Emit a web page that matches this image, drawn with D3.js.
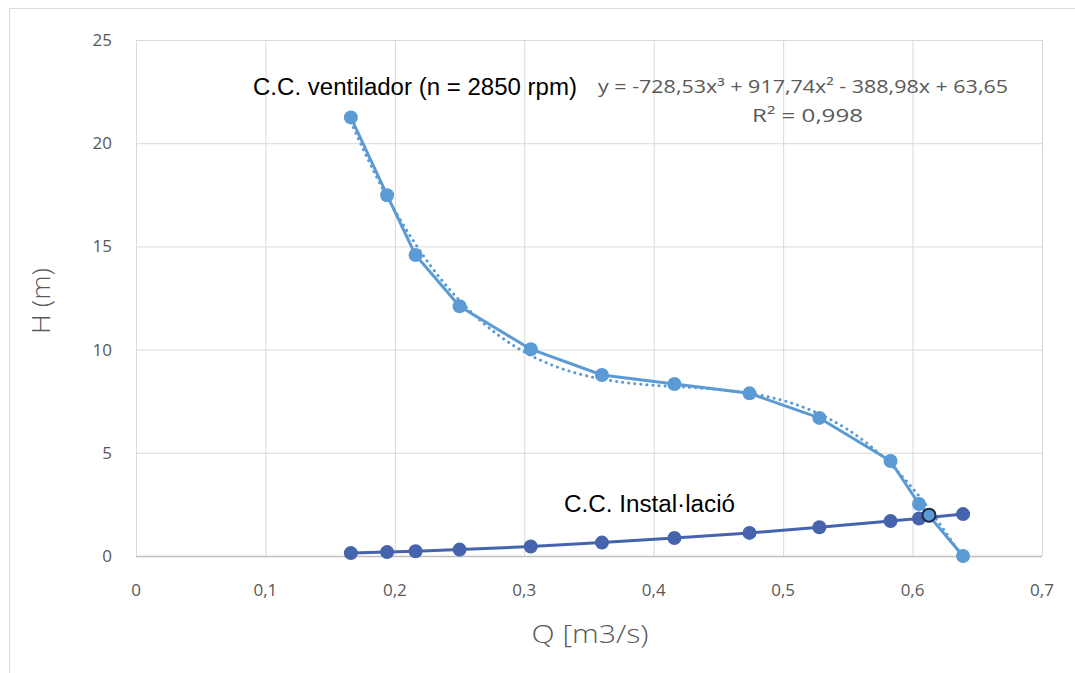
<!DOCTYPE html>
<html>
<head>
<meta charset="utf-8">
<script src="https://d3js.org/d3.v7.min.js"></script>
<style>
    body { margin: 0; background: #fff; }
</style>
</head>
<body>
<div id="chart"></div>
<script>
// fan curve measured points (Q in m3/s, H in m)
var fanQ = [0.166, 0.194, 0.216, 0.25, 0.305, 0.36, 0.416, 0.474, 0.528, 0.583, 0.605, 0.639];
var fanH = [21.25, 17.48, 14.58, 12.1, 10.02, 8.77, 8.33, 7.88, 6.69, 4.6, 2.52, 0];

// installation curve
var instQ = [0.166, 0.194, 0.216, 0.25, 0.305, 0.36, 0.416, 0.474, 0.528, 0.583, 0.605, 0.639];
var instH = [0.14, 0.19, 0.23, 0.31, 0.46, 0.65, 0.87, 1.12, 1.39, 1.69, 1.82, 2.03];

// dotted cubic trendline
var trendQ = [0.166, 0.19, 0.22, 0.25, 0.28, 0.31, 0.34, 0.37, 0.40, 0.43, 0.46, 0.49, 0.52, 0.55, 0.58, 0.61, 0.639];
var trendH = [21.03, 17.87, 14.73, 12.38, 10.70, 9.56, 8.86, 8.47, 8.27, 8.16, 8.00, 7.69, 7.10, 6.12, 4.63, 2.50, -0.1];

// operating point
var opQ = [0.6127];
var opH = [1.98];

var xTicks = [0, 0.1, 0.2, 0.3, 0.4, 0.5, 0.6, 0.7];
var yTicks = [0, 5, 10, 15, 20, 25];

var fullWidth = 1075;
var fullHeight = 673;
var fanColor = '#5B9BD5';
var instColor = '#4664AE';
var gridColor = '#D9D9D9';
var labelColor = '#595959';
var tickFont = '"Open Sans", "Liberation Sans", sans-serif';
var textFont = '"Liberation Sans", Arial, sans-serif';

window.onload = function() {
    render();
};

function render() {
    var svg = d3.select('#chart').append('svg')
        .attr('width', fullWidth)
        .attr('height', fullHeight);

    // outer chart frame
    svg.append('rect')
        .attr('x', 9.5)
        .attr('y', 8.5)
        .attr('width', 1100)
        .attr('height', 700)
        .attr('fill', 'none')
        .attr('stroke', gridColor);

    var x = d3.scaleLinear().domain([0, 0.7]).range([136, 1042]);
    var y = d3.scaleLinear().domain([0, 25]).range([556, 40]);

    // gridlines
    svg.append('g')
        .attr('transform', 'translate(136,0)')
        .call(d3.axisLeft(y).tickValues(yTicks).tickSize(-(1042 - 136)).tickFormat(''))
        .call(function(g) {
            g.select('.domain').remove();
            g.selectAll('line').attr('stroke', gridColor).attr('stroke-width', 1);
        });

    svg.append('g')
        .attr('transform', 'translate(0,556)')
        .call(d3.axisBottom(x).tickValues(xTicks).tickSize(-(556 - 40)).tickFormat(''))
        .call(function(g) {
            g.select('.domain').remove();
            g.selectAll('line').attr('stroke', gridColor).attr('stroke-width', 1);
        });

    // bottom axis line
    svg.append('line')
        .attr('x1', 136).attr('x2', 1042)
        .attr('y1', 556.5).attr('y2', 556.5)
        .attr('stroke', '#BFBFBF')
        .attr('stroke-width', 1.5);

    // tick labels
    var fmt = function(d) { return String(d).replace('.', ','); };
    svg.append('g').selectAll('text')
        .data(xTicks)
        .join('text')
        .attr('x', function(d) { return x(d); })
        .attr('y', 596)
        .attr('text-anchor', 'middle')
        .style('font-family', tickFont)
        .style('font-size', '17px')
        .style('fill', labelColor)
        .text(fmt);

    svg.append('g').selectAll('text')
        .data(yTicks)
        .join('text')
        .attr('x', 112)
        .attr('y', function(d) { return y(d) + 6; })
        .attr('text-anchor', 'end')
        .style('font-family', tickFont)
        .style('font-size', '17px')
        .style('fill', labelColor)
        .text(fmt);

    // axis titles
    svg.append('text')
        .attr('x', 590)
        .attr('y', 643)
        .attr('text-anchor', 'middle')
        .attr('textLength', 117)
        .attr('lengthAdjust', 'spacingAndGlyphs')
        .style('font-family', tickFont)
        .style('font-size', '25px')
        .style('font-weight', 300)
        .style('fill', labelColor)
        .text('Q [m3/s)');

    svg.append('text')
        .attr('transform', 'translate(50,301) rotate(-90)')
        .attr('text-anchor', 'middle')
        .attr('textLength', 66)
        .attr('lengthAdjust', 'spacingAndGlyphs')
        .style('font-family', tickFont)
        .style('font-size', '25px')
        .style('font-weight', 300)
        .style('fill', labelColor)
        .text('H (m)');

    var line = d3.line()
        .x(function(d) { return x(d[0]); })
        .y(function(d) { return y(d[1]); });

    // trendline (dotted)
    var trendPts = d3.zip(trendQ, trendH);
    svg.append('path')
        .attr('d', line.curve(d3.curveNatural)(trendPts))
        .attr('fill', 'none')
        .attr('stroke', fanColor)
        .attr('stroke-width', 3)
        .attr('stroke-linecap', 'round')
        .attr('stroke-dasharray', '0.1 6');
    line.curve(d3.curveLinear);

    // fan curve
    drawSeries(svg, d3.zip(fanQ, fanH), fanColor, line, x, y);

    // installation curve
    drawSeries(svg, d3.zip(instQ, instH), instColor, line, x, y);

    // operating point
    svg.append('g').selectAll('circle')
        .data(d3.zip(opQ, opH))
        .join('circle')
        .attr('cx', function(d) { return x(d[0]); })
        .attr('cy', function(d) { return y(d[1]); })
        .attr('r', 6.5)
        .attr('fill', fanColor)
        .attr('stroke', '#1F2A4A')
        .attr('stroke-width', 2);

    // annotations
    svg.append('text')
        .attr('x', 253)
        .attr('y', 95)
        .attr('textLength', 324)
        .attr('lengthAdjust', 'spacingAndGlyphs')
        .style('font-family', textFont)
        .style('font-size', '23.5px')
        .style('fill', '#000')
        .text('C.C. ventilador (n = 2850 rpm)');

    svg.append('text')
        .attr('x', 564)
        .attr('y', 512)
        .attr('textLength', 171)
        .attr('lengthAdjust', 'spacingAndGlyphs')
        .style('font-family', textFont)
        .style('font-size', '23.5px')
        .style('fill', '#000')
        .text('C.C. Instal·lació');

    svg.append('text')
        .attr('x', 598)
        .attr('y', 93)
        .attr('textLength', 410)
        .attr('lengthAdjust', 'spacingAndGlyphs')
        .style('font-family', tickFont)
        .style('font-size', '18px')
        .style('fill', labelColor)
        .text('y = -728,53x³ + 917,74x² - 388,98x + 63,65');

    svg.append('text')
        .attr('x', 752)
        .attr('y', 122)
        .attr('textLength', 111)
        .attr('lengthAdjust', 'spacingAndGlyphs')
        .style('font-family', tickFont)
        .style('font-size', '18px')
        .style('fill', labelColor)
        .text('R² = 0,998');
}

function drawSeries(svg, pts, color, line, x, y) {
    svg.append('path')
        .attr('d', line(pts))
        .attr('fill', 'none')
        .attr('stroke', color)
        .attr('stroke-width', 3)
        .attr('stroke-linejoin', 'round');

    svg.append('g').selectAll('circle')
        .data(pts)
        .join('circle')
        .attr('cx', function(d) { return x(d[0]); })
        .attr('cy', function(d) { return y(d[1]); })
        .attr('r', 7)
        .attr('fill', color);
}
</script>
</body>
</html>
